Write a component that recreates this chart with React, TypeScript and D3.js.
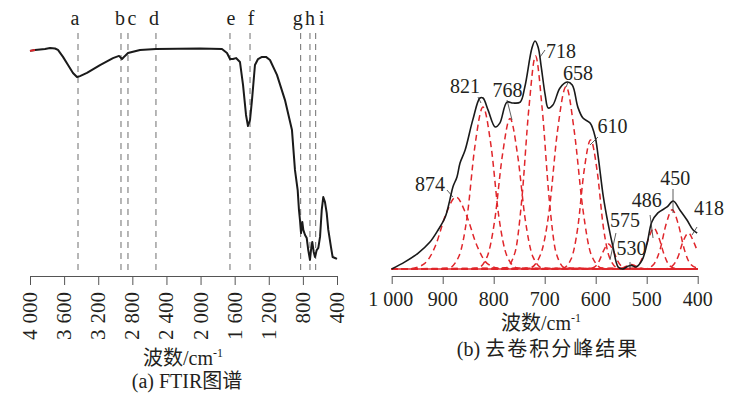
import { useEffect, useRef } from 'react'
import * as d3 from 'd3'

// (a) FTIR
const ftirTicks = [4000, 3600, 3200, 2800, 2400, 2000, 1600, 1200, 800, 400]
const ftirSpectrum: [number, number][] = [
  [4000, 91.3], [3941, 91.7], [3824, 92.1], [3765, 92.5], [3707, 92.3], [3672, 91.7],
  [3613, 88.8], [3554, 85.4], [3496, 82.1], [3449, 80.4], [3414, 80.8], [3332, 82.1],
  [3179, 85.4], [3027, 88.3], [2956, 89.2], [2921, 87.9], [2886, 89.2], [2851, 90.4],
  [2710, 91.7], [2523, 92.1], [2007, 92.3], [1749, 92.1], [1690, 90.4], [1655, 87.9],
  [1620, 87.9], [1584, 88.3], [1538, 86.7], [1502, 77.1], [1467, 64.6], [1444, 60],
  [1420, 62.5], [1397, 70.8], [1362, 85.4], [1326, 87.9], [1280, 88.8], [1233, 88.8],
  [1186, 87.5], [1104, 81.3], [1010, 70.8], [928, 58.3], [893, 41.7], [861, 33.3],
  [846, 25], [834, 20.8], [822, 15.4], [807, 20], [795, 16.7], [775, 14.6], [755, 13.3],
  [737, 8.3], [717, 4.2], [705, 8.3], [690, 11.7], [673, 7.5], [658, 5.4], [638, 8.3],
  [619, 9.2], [599, 13.8], [579, 25], [561, 30.4], [541, 28.3], [521, 23.8], [502, 16.7],
  [471, 9.6], [451, 5.4], [424, 5], [400, 4.6],
]
const bandLetters = ['a', 'b', 'c', 'd', 'e', 'f', 'g', 'h', 'i']
const bandPositions = [3437, 2933, 2851, 2523, 1655, 1420, 826, 717, 650]

// (b) deconvolution
const deconvTicks = [1000, 900, 800, 700, 600, 500, 400]
const deconvSpectrum: [number, number][] = [
  [1000, 0], [974, 3.1], [948, 7], [925, 11.8], [909, 17.1], [895, 22.8], [886, 30.3],
  [880, 36], [872, 40.4], [866, 46.5], [856, 52.2], [841, 65.4], [827, 75], [821, 75],
  [811, 69.7], [797, 62.3], [788, 64], [774, 73.2], [762, 72.8], [748, 73.2], [739, 79.8],
  [725, 96.9], [719, 100], [713, 97.4], [707, 89], [699, 76.3], [693, 70.6], [684, 71.9],
  [670, 79.4], [656, 82], [646, 80.7], [635, 71], [625, 66.2], [611, 64], [601, 57.9],
  [595, 49.1], [585, 31.6], [576, 20.2], [566, 9.6], [556, 0.9], [547, 0], [537, 1.2],
  [530, 1.6], [521, 0.9], [509, 3.9], [499, 11.4], [490, 20.6], [478, 24.6], [460, 27.2],
  [448, 29.8], [435, 25.9], [421, 21.5], [409, 17.1], [401, 15.8],
]
const peakLabels = [874, 821, 768, 718, 658, 610, 575, 530, 486, 450, 418]
const peakComponents: [number, number][][] = [
  [[1000, 0], [962, 0.2], [935, 2.5], [914, 10.3], [894, 23.9], [874, 31.6], [854, 23.9], [833, 10.3], [813, 2.5], [786, 0.2], [400, 0]],
  [[1000, 0], [889, 0.4], [868, 5.7], [852, 23.1], [837, 53.6], [821, 71], [805, 53.6], [790, 23.1], [774, 5.7], [753, 0.4], [400, 0]],
  [[1000, 0], [833, 0.3], [813, 5.3], [798, 21.4], [783, 49.8], [768, 66], [753, 49.8], [738, 21.4], [723, 5.3], [703, 0.3], [400, 0]],
  [[1000, 0], [777, 0.5], [758, 7.4], [745, 30.3], [731, 70.5], [718, 93.4], [705, 70.5], [691, 30.3], [678, 7.4], [660, 0.5], [400, 0]],
  [[1000, 0], [730, 0.4], [708, 6.4], [691, 26], [675, 60.4], [658, 80], [642, 60.4], [625, 26], [609, 6.4], [587, 0.4], [400, 0]],
  [[1000, 0], [665, 0.3], [648, 4.5], [635, 18.4], [623, 42.7], [610, 56.6], [597, 42.7], [585, 18.4], [572, 4.5], [555, 0.3], [400, 0]],
  [[1000, 0], [614, 0], [602, 0.9], [593, 3.6], [584, 8.3], [575, 11], [566, 8.3], [557, 3.6], [548, 0.9], [536, 0], [400, 0]],
  [[1000, 0], [562, 0], [552, 0.2], [545, 0.65], [537, 1.5], [530, 2], [523, 1.5], [515, 0.65], [508, 0.2], [498, 0], [400, 0]],
  [[1000, 0], [531, 0.1], [517, 1.4], [507, 5.8], [496, 13.6], [486, 18], [476, 13.6], [465, 5.8], [455, 1.4], [441, 0.1], [400, 0]],
  [[1000, 0], [502, 0.1], [486, 2.1], [474, 8.4], [462, 19.6], [450, 26], [438, 19.6], [426, 8.4], [414, 2.1], [400, 0.4]],
  [[1000, 0], [464, 0.1], [450, 1.3], [439, 5.1], [429, 11.9], [418, 15.8], [408, 11.9], [400, 7.5]],
]

const FONT = "'Liberation Serif', 'Times New Roman', 'Noto Sans CJK SC', serif"

// thousands split into two parts, drawn with a gap between them
const tickParts = (v: number) =>
  v >= 1000 ? [String(Math.floor(v / 1000)), String(v % 1000).padStart(3, '0')] : [String(v)]

export default function App() {
  const svgRef = useRef<SVGSVGElement>(null)

  useEffect(() => {
    const svg = d3.select(svgRef.current)
    svg.selectAll('*').remove()
    svg.attr('font-family', FONT).attr('font-size', 20).attr('fill', '#231f20')

    const putTick = (t: d3.Selection<SVGTextElement, unknown, null, undefined>, v: number, gap: number) => {
      const p = tickParts(v)
      t.append('tspan').text(p[0])
      if (p.length > 1) t.append('tspan').attr('dx', gap).text(p[1])
    }

    // ---------- (a) ----------
    const xL = d3.scaleLinear().domain([4000, 400]).range([30, 337])
    const yL = d3.scaleLinear().domain([0, 100]).range([270, 30])
    const letterDx = [-3, -1, 4, -2, 1, 1, -3, 0, 6]

    bandPositions.forEach((v, i) => {
      svg.append('line')
        .attr('x1', xL(v)).attr('x2', xL(v)).attr('y1', 33).attr('y2', 270)
        .attr('stroke', '#6e6e6e').attr('stroke-width', 1).attr('stroke-dasharray', '6,5')
      svg.append('text')
        .attr('x', xL(v) + letterDx[i]).attr('y', 25)
        .attr('text-anchor', 'middle').text(bandLetters[i])
    })

    const lineL = d3.line<[number, number]>().x(d => xL(d[0])).y(d => yL(d[1]))
    svg.append('path').attr('d', lineL(ftirSpectrum))
      .attr('fill', 'none').attr('stroke', '#1a1a1a').attr('stroke-width', 2)
      .attr('stroke-linejoin', 'round')
    svg.append('path').attr('d', lineL(ftirSpectrum.slice(0, 2)))
      .attr('fill', 'none').attr('stroke', '#e0262b').attr('stroke-width', 2)

    const axL = svg.append('g').attr('transform', 'translate(0,276)')
      .call(d3.axisBottom(xL).tickValues(ftirTicks).tickSize(9).tickSizeOuter(0).tickFormat(() => ''))
    axL.select('.domain').attr('stroke', '#555')
    axL.selectAll('.tick line').attr('stroke', '#555')

    ftirTicks.forEach(v => {
      const t = svg.append('text')
        .attr('transform', `translate(${xL(v) + 7},292) rotate(-90)`)
        .attr('text-anchor', 'end').attr('font-size', 21)
      putTick(t, v, 6)
    })

    const capL1 = svg.append('text').attr('x', 183).attr('y', 365).attr('text-anchor', 'middle')
    capL1.append('tspan').text('波数/cm')
    capL1.append('tspan').attr('font-size', 12).attr('dy', -8).text('-1')
    svg.append('text').attr('x', 187).attr('y', 388).attr('text-anchor', 'middle').text('(a) FTIR图谱')

    // ---------- (b) ----------
    const xR = d3.scaleLinear().domain([1000, 400]).range([391.7, 697.7])
    const yR = d3.scaleLinear().domain([0, 100]).range([269, 41])
    const lineR = d3.line<[number, number]>().x(d => xR(d[0])).y(d => yR(d[1])).curve(d3.curveMonotoneX)

    svg.append('line')
      .attr('x1', xR(1000)).attr('x2', xR(400)).attr('y1', yR(0)).attr('y2', yR(0))
      .attr('stroke', '#e0262b').attr('stroke-width', 1.6)

    peakComponents.forEach(c => {
      svg.append('path').attr('d', lineR(c))
        .attr('fill', 'none').attr('stroke', '#e0262b').attr('stroke-width', 1.5)
        .attr('stroke-dasharray', '6,4')
    })

    svg.append('path')
      .attr('d', d3.line<[number, number]>().x(d => xR(d[0])).y(d => yR(d[1])).curve(d3.curveCatmullRom.alpha(0.5))(deconvSpectrum))
      .attr('fill', 'none').attr('stroke', '#1a1a1a').attr('stroke-width', 1.6)

    const axR = svg.append('g').attr('transform', 'translate(0,276)')
      .call(d3.axisBottom(xR).tickValues(deconvTicks).tickSize(8).tickSizeOuter(0).tickFormat(() => ''))
    axR.select('.domain').attr('stroke', '#555')
    axR.selectAll('.tick line').attr('stroke', '#555')

    deconvTicks.forEach(v => {
      const t = svg.append('text').attr('x', xR(v) - (v === 1000 ? 1 : 0)).attr('y', 306)
        .attr('text-anchor', 'middle')
      putTick(t, v, 5)
    })

    // label layout: text centre offset, baseline, leader [dx1, y1, dx2, y2]
    const labelLayout: { dx: number; ty: number; l: number[] }[] = [
      { dx: -26, ty: 191, l: [-9, 190, -3, 197] },
      { dx: -18, ty: 93, l: [-5, 97, -2, 103] },
      { dx: -2.5, ty: 97, l: [-3, 100, 2, 120] },
      { dx: 25.5, ty: 58, l: [9.5, 50, 4.5, 57] },
      { dx: 12, ty: 80, l: [2, 82, 0, 87] },
      { dx: 22, ty: 133, l: [7.4, 137, -0.6, 145] },
      { dx: 16.5, ty: 227, l: [7.5, 233, 1.5, 260] },
      { dx: 0, ty: 255, l: [-1.4, 262, -1.4, 269] },
      { dx: -7, ty: 207, l: [-3.8, 215, -0.8, 238] },
      { dx: 3, ty: 185, l: [0.8, 189, 0.8, 213] },
      { dx: 20.5, ty: 215, l: [8.5, 227, 3.5, 235] },
    ]
    peakLabels.forEach((v, i) => {
      const lay = labelLayout[i]
      const x = xR(v)
      svg.append('line')
        .attr('x1', x + lay.l[0]).attr('y1', lay.l[1]).attr('x2', x + lay.l[2]).attr('y2', lay.l[3])
        .attr('stroke', '#333').attr('stroke-width', 0.8)
      svg.append('text').attr('x', x + lay.dx).attr('y', lay.ty)
        .attr('text-anchor', 'middle').text(String(v))
    })

    const capR1 = svg.append('text').attr('x', 541).attr('y', 330).attr('text-anchor', 'middle')
    capR1.append('tspan').text('波数/cm')
    capR1.append('tspan').attr('font-size', 12).attr('dy', -8).text('-1')
    const capR2 = svg.append('text').attr('x', 548).attr('y', 356).attr('text-anchor', 'middle')
    capR2.append('tspan').text('(b) ')
    capR2.append('tspan').attr('letter-spacing', 2).text('去卷积分峰结果')
  }, [])

  return (
    <svg
      ref={svgRef}
      width={730}
      height={395}
      viewBox='0 0 730 395'
      style={{ position: 'absolute', left: 0, top: 0, background: '#fff', display: 'block' }}
    />
  )
}
